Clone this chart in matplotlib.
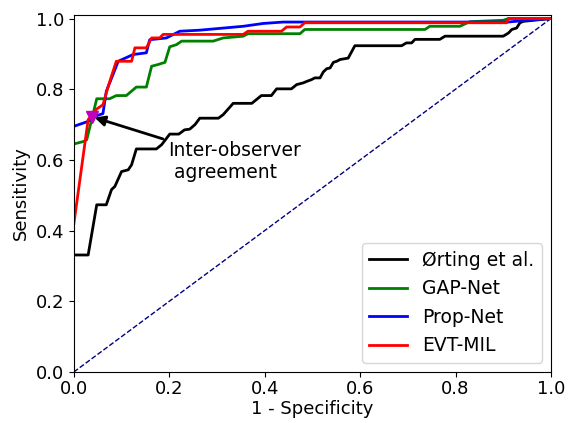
import matplotlib
matplotlib.use("Agg")
import matplotlib.pyplot as plt

# Ørting et al.
orting_x = [0, 0.030, 0.048, 0.068, 0.079, 0.086, 0.100, 0.114, 0.121, 0.131, 0.173, 0.184,
            0.201, 0.220, 0.232, 0.243, 0.254, 0.264, 0.303, 0.313, 0.334, 0.373, 0.393, 0.414,
            0.425, 0.456, 0.467, 0.481, 0.488, 0.498, 0.505, 0.516, 0.523, 0.530, 0.537, 0.544,
            0.551, 0.558, 0.575, 0.589, 0.687, 0.697, 0.708, 0.715, 0.767, 0.778, 0.900, 0.911,
            0.918, 0.928, 0.935, 0.942, 1.0]
orting_y = [0.331, 0.331, 0.473, 0.473, 0.516, 0.525, 0.567, 0.572, 0.586, 0.631, 0.631, 0.643,
            0.673, 0.673, 0.685, 0.687, 0.700, 0.718, 0.718, 0.728, 0.760, 0.760, 0.782, 0.782,
            0.801, 0.801, 0.813, 0.818, 0.822, 0.827, 0.832, 0.832, 0.849, 0.858, 0.860, 0.876,
            0.879, 0.884, 0.888, 0.923, 0.923, 0.931, 0.931, 0.941, 0.941, 0.950, 0.950, 0.959,
            0.969, 0.973, 0.988, 0.992, 1.0]

# GAP-Net
gap_x = [0, 0.020, 0.027, 0.048, 0.075, 0.089, 0.110, 0.131, 0.152, 0.163, 0.177, 0.191, 0.201,
         0.215, 0.226, 0.292, 0.313, 0.355, 0.365, 0.474, 0.484, 0.736, 0.746, 0.809, 0.830,
         0.900, 0.911, 1.0]
gap_y = [0.645, 0.652, 0.657, 0.773, 0.773, 0.782, 0.782, 0.806, 0.806, 0.865, 0.870, 0.876, 0.920,
         0.926, 0.936, 0.936, 0.945, 0.950, 0.957, 0.957, 0.969, 0.969, 0.978, 0.978, 0.991,
         0.995, 1.0, 1.0]

# Prop-Net
prop_x = [0, 0.030, 0.048, 0.061, 0.068, 0.082, 0.093, 0.124, 0.152, 0.159, 0.194, 0.222, 0.264,
          0.355, 0.397, 0.439, 0.484, 0.91, 0.95, 1.0]
prop_y = [0.695, 0.709, 0.725, 0.731, 0.794, 0.841, 0.879, 0.898, 0.903, 0.940, 0.945, 0.964, 0.967,
          0.978, 0.986, 0.990, 0.990, 0.990, 0.995, 1.0]

# EVT-MIL
evt_x = [0, 0.030, 0.037, 0.048, 0.061, 0.072, 0.089, 0.121, 0.128, 0.152, 0.163, 0.180, 0.187,
         0.355, 0.365, 0.435, 0.446, 0.474, 0.484, 0.907, 0.911, 1.0]
evt_y = [0.419, 0.714, 0.725, 0.744, 0.756, 0.808, 0.879, 0.879, 0.917, 0.917, 0.945, 0.945, 0.955,
         0.955, 0.964, 0.964, 0.976, 0.976, 0.988, 0.988, 1.0, 1.0]

# Inter-observer agreement point
obs_x = [0.038]
obs_y = [0.722]

ticks = [0.0, 0.2, 0.4, 0.6, 0.8, 1.0]
tick_labels = ["0.0", "0.2", "0.4", "0.6", "0.8", "1.0"]

FS = 13
fig = plt.figure(figsize=(5.68, 4.23), dpi=100)
ax = fig.add_axes([0.130, 0.1206, 0.840, 0.844])

ax.plot([0, 1], [0, 1], color='navy', lw=1, ls='--')
ax.plot(orting_x, orting_y, color='black', lw=2, label='Ørting et al.')
ax.plot(gap_x, gap_y, color='green', lw=2, label='GAP-Net')
ax.plot(prop_x, prop_y, color='blue', lw=2, label='Prop-Net')
ax.plot(evt_x, evt_y, color='red', lw=2, label='EVT-MIL')
ax.plot(obs_x, obs_y, 'mv', markersize=9, zorder=5)

ax.annotate("Inter-observer\n agreement", xy=(obs_x[0], obs_y[0]), xytext=(0.198, 0.596),
            ha='left', va='center', fontsize=13.5,
            arrowprops=dict(arrowstyle='-|>', color='black', lw=2, mutation_scale=15))

ax.set_xlim(0, 1.0)
ax.set_ylim(0, 1.01)
ax.set_xticks(ticks)
ax.set_xticklabels(tick_labels, fontsize=FS)
ax.tick_params(axis='x', pad=2)
ax.set_yticks(ticks)
ax.set_yticklabels(tick_labels, fontsize=FS)
ax.set_xlabel("1 - Specificity", fontsize=FS, labelpad=2)
ax.set_ylabel("Sensitivity", fontsize=FS)
ax.legend(loc='lower right', fontsize=13.5)

fig.savefig("out.png", dpi=100)
